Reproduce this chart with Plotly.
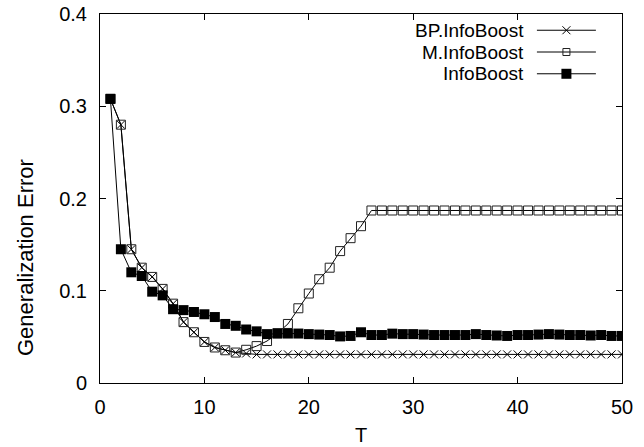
import plotly.graph_objects as go

T = list(range(1, 51))

bp_infoboost = [0.308, 0.280, 0.145, 0.125, 0.115, 0.102, 0.086, 0.066, 0.055, 0.0445,
                0.0385, 0.0355, 0.033, 0.032, 0.031, 0.031, 0.031, 0.031, 0.031, 0.031,
                0.031, 0.031, 0.031, 0.031, 0.031, 0.031, 0.031, 0.031, 0.031, 0.031,
                0.031, 0.031, 0.031, 0.031, 0.031, 0.031, 0.031, 0.031, 0.031, 0.031,
                0.031, 0.031, 0.031, 0.031, 0.031, 0.031, 0.031, 0.031, 0.031, 0.031]

m_infoboost = [0.308, 0.280, 0.145, 0.125, 0.115, 0.102, 0.086, 0.066, 0.055, 0.0445,
               0.0385, 0.0355, 0.033, 0.036, 0.040, 0.0455, 0.054, 0.064, 0.081, 0.097,
               0.1125, 0.125, 0.143, 0.157, 0.170, 0.187, 0.187, 0.187, 0.187, 0.187,
               0.187, 0.187, 0.187, 0.187, 0.187, 0.187, 0.187, 0.187, 0.187, 0.187,
               0.187, 0.187, 0.187, 0.187, 0.187, 0.187, 0.187, 0.187, 0.187, 0.187]

infoboost = [0.308, 0.145, 0.120, 0.116, 0.099, 0.095, 0.080, 0.079, 0.077, 0.0745,
             0.0715, 0.064, 0.062, 0.058, 0.056, 0.053, 0.0536, 0.0536, 0.0536, 0.053,
             0.0525, 0.052, 0.0505, 0.051, 0.055, 0.052, 0.052, 0.0535, 0.053, 0.053,
             0.0525, 0.052, 0.052, 0.052, 0.052, 0.053, 0.052, 0.0515, 0.051, 0.052,
             0.052, 0.0525, 0.053, 0.0525, 0.052, 0.052, 0.0515, 0.052, 0.051, 0.051]

series_names = ["BP.InfoBoost", "M.InfoBoost", "InfoBoost"]
x_ticks = [0, 10, 20, 30, 40, 50]
y_ticks = [0, 0.1, 0.2, 0.3, 0.4]
y_tick_text = ["0", "0.1", "0.2", "0.3", "0.4"]
x_title = "T"
y_title = "Generalization Error"

FONT = "Liberation Sans, Arial, Helvetica, sans-serif"
styles = [
    dict(symbol="x-thin", size=8, color="black", line=dict(width=1, color="black")),
    dict(symbol="square-open", size=9, color="#222", line=dict(width=1, color="#222")),
    dict(symbol="square", size=10, color="black", line=dict(width=0)),
]
legend_styles = [
    dict(symbol="x-thin", size=8, color="black", line=dict(width=1, color="black")),
    dict(symbol="square-open", size=7, color="#222", line=dict(width=1, color="#222")),
    dict(symbol="square", size=10, color="black", line=dict(width=0)),
]

fig = go.Figure()
for name, ys, st in zip(series_names, [bp_infoboost, m_infoboost, infoboost], styles):
    fig.add_trace(go.Scatter(x=T, y=ys, mode="lines+markers", name=name,
                             line=dict(color="black", width=1), marker=st,
                             showlegend=False))

# custom gnuplot-style legend: text right-aligned, sample to the right
leg_y = [0.956, 0.897, 0.838]
for name, ly, st in zip(series_names, leg_y, legend_styles):
    fig.add_trace(go.Scatter(x=[0.837, 0.950], y=[ly, ly], mode="lines",
                             line=dict(color="black", width=1), xaxis="x2", yaxis="y2",
                             showlegend=False, hoverinfo="skip"))
    fig.add_trace(go.Scatter(x=[0.8935], y=[ly], mode="markers", marker=st,
                             xaxis="x2", yaxis="y2", showlegend=False, hoverinfo="skip"))
    fig.add_annotation(x=0.815, y=ly, xref="x2", yref="y2", text=name, showarrow=False,
                       xanchor="right", yanchor="middle", borderpad=0,
                       font=dict(family=FONT, size=19, color="black"))

# y-axis title (placed like the gnuplot original, below the vertical centre)
fig.add_annotation(x=-0.144, y=0.341, xref="paper", yref="paper", text=y_title,
                   textangle=-90, showarrow=False, xanchor="center", yanchor="middle",
                   font=dict(family=FONT, size=22, color="black"))

axis_common = dict(showline=True, linecolor="black", linewidth=1, mirror="ticks",
                   ticks="inside", ticklen=6, tickcolor="black", showgrid=False,
                   zeroline=False, automargin=False,
                   tickfont=dict(family=FONT, size=20, color="black"))

fig.update_layout(
    width=644, height=447,
    margin=dict(l=100, r=22, t=14, b=64),
    paper_bgcolor="white", plot_bgcolor="white",
    font=dict(family=FONT, size=20, color="black"),
    xaxis=dict(range=[0, 50], tickvals=x_ticks, ticktext=[str(v) for v in x_ticks],
               title=dict(text=x_title, font=dict(family=FONT, size=20), standoff=10),
               ticklabelstandoff=6, **axis_common),
    yaxis=dict(range=[0, 0.4], tickvals=y_ticks, ticktext=y_tick_text,
               ticklabelstandoff=8, **axis_common),
    xaxis2=dict(range=[0, 1], overlaying="x", visible=False, fixedrange=True),
    yaxis2=dict(range=[0, 1], overlaying="y", visible=False, fixedrange=True),
    showlegend=False,
)

fig.write_html("out.html", config={"displayModeBar": False},
               post_script="document.body.style.margin='0';document.body.style.overflow='hidden';")
